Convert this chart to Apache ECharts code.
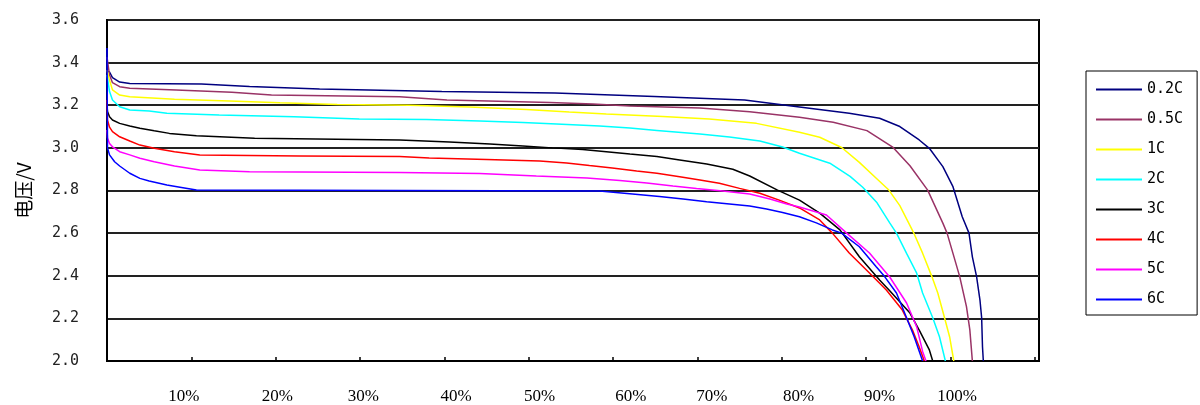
<!DOCTYPE html>
<html><head><meta charset="utf-8">
<script src="https://cdn.jsdelivr.net/npm/echarts@6/dist/echarts.min.js"></script>
<style>html,body{margin:0;padding:0;background:#fff}#c{width:1200px;height:405px}</style>
</head><body><div id="c"></div>
<script>
// Discharge curves: [capacity (%), voltage (V)]
const seriesNames = ['0.2C', '0.5C', '1C', '2C', '3C', '4C', '5C', '6C'];
const seriesColors = ['#000080', '#993366', '#FFFF00', '#00FFFF', '#000000', '#FF0000', '#FF00FF', '#0000FF'];

const c02 = [[0,3.36],[0.3,3.356],[0.65,3.33],[1.5,3.309],[2.7,3.302],[11.2,3.30],[16.9,3.288],[25.2,3.276],[39.7,3.265],[53.1,3.257],[64.9,3.241],[75.6,3.225],[82.1,3.192],[88.0,3.162],[91.6,3.139],[94.0,3.10],[96.3,3.037],[97.5,2.998],[99.1,2.912],[100.3,2.818],[101.4,2.677],[102.2,2.60],[102.6,2.489],[103.1,2.396],[103.5,2.286],[103.7,2.203],[103.8,2.067],[103.9,2.0]];
const c05 = [[0,3.426],[0.3,3.342],[0.65,3.306],[1.5,3.287],[2.7,3.28],[8.2,3.272],[14.8,3.261],[19.5,3.248],[34.7,3.24],[40.3,3.225],[52.5,3.213],[57.6,3.206],[62.0,3.197],[70.3,3.187],[76.2,3.17],[82.1,3.144],[86.1,3.12],[90.1,3.081],[93.2,3.002],[95.2,2.916],[97.3,2.802],[99.1,2.647],[99.6,2.60],[100.3,2.505],[101.1,2.396],[101.9,2.255],[102.3,2.146],[102.6,2.0]];
const c1 = [[0,3.365],[0.3,3.318],[0.65,3.272],[1.5,3.248],[2.7,3.24],[8.0,3.228],[14.5,3.22],[20.5,3.212],[27.3,3.204],[35.9,3.20],[43.0,3.192],[49.7,3.18],[54.8,3.168],[59.2,3.159],[65.9,3.147],[71.4,3.135],[77.0,3.115],[82.1,3.073],[84.5,3.05],[87.1,3.002],[89.2,2.932],[91.3,2.854],[92.7,2.802],[94.0,2.729],[95.6,2.605],[96.7,2.506],[97.8,2.396],[98.5,2.319],[99.3,2.203],[99.9,2.114],[100.4,2.0]];
const c2 = [[0,3.342],[0.3,3.264],[0.65,3.225],[1.5,3.193],[2.7,3.178],[5.0,3.173],[7.1,3.162],[13.3,3.154],[22.2,3.146],[29.9,3.135],[37.9,3.133],[44.2,3.126],[49.3,3.119],[53.3,3.112],[58.4,3.103],[62.0,3.093],[65.2,3.082],[70.3,3.065],[73.8,3.051],[77.4,3.032],[80.1,3.004],[82.1,2.975],[85.7,2.928],[88.1,2.866],[89.6,2.815],[91.3,2.742],[92.8,2.648],[93.6,2.60],[94.8,2.505],[96.0,2.412],[96.7,2.319],[97.9,2.203],[98.7,2.114],[99.4,2.0]];
const c3 = [[0,3.20],[0.06,3.17],[0.3,3.146],[0.65,3.131],[1.5,3.115],[2.7,3.103],[3.9,3.092],[5.6,3.08],[7.4,3.068],[10.6,3.057],[17.5,3.045],[27.2,3.04],[34.7,3.037],[40.6,3.028],[45.4,3.018],[49.3,3.009],[52.8,3.0],[56.4,2.992],[59.2,2.982],[62.0,2.971],[65.2,2.959],[67.9,2.943],[71.1,2.924],[74.2,2.90],[76.2,2.868],[79.5,2.802],[82.1,2.755],[84.5,2.694],[86.9,2.615],[89.2,2.489],[91.6,2.38],[92.8,2.33],[95.2,2.225],[96.3,2.145],[97.5,2.052],[97.9,2.0]];
const c4 = [[0,3.225],[0.06,3.13],[0.3,3.097],[0.65,3.076],[1.5,3.052],[2.7,3.032],[3.9,3.013],[5.6,2.998],[8.0,2.982],[11.0,2.967],[22.8,2.962],[34.7,2.959],[38.2,2.952],[45.0,2.945],[51.3,2.938],[54.5,2.929],[57.2,2.917],[59.9,2.906],[62.8,2.891],[65.2,2.881],[67.9,2.865],[70.3,2.849],[72.6,2.834],[75.0,2.81],[77.4,2.787],[79.7,2.755],[82.1,2.718],[84.5,2.662],[86.0,2.60],[88.0,2.507],[90.4,2.413],[92.4,2.333],[94.3,2.239],[95.5,2.145],[96.3,2.066],[96.9,2.0]];
const c5 = [[0,3.084],[0.06,3.046],[0.3,3.021],[0.65,3.005],[1.5,2.982],[2.7,2.967],[3.9,2.951],[5.6,2.935],[8.0,2.915],[11.0,2.896],[16.9,2.888],[34.7,2.884],[44.2,2.88],[50.9,2.868],[56.9,2.859],[60.8,2.847],[64.0,2.835],[67.1,2.821],[69.9,2.809],[73.0,2.798],[76.2,2.784],[78.6,2.76],[80.6,2.737],[82.1,2.723],[85.3,2.685],[87.7,2.60],[90.4,2.507],[92.8,2.394],[94.8,2.272],[96.0,2.16],[96.7,2.045],[97.1,2.0]];
const c6 = [[0,3.469],[0.06,3.0],[0.3,2.967],[0.9,2.935],[1.5,2.915],[2.7,2.881],[3.9,2.857],[5.0,2.845],[7.1,2.826],[9.0,2.813],[10.6,2.802],[34.7,2.80],[58.4,2.798],[62.3,2.784],[65.5,2.772],[68.3,2.76],[71.1,2.747],[73.8,2.737],[76.2,2.727],[78.2,2.713],[80.1,2.697],[82.1,2.677],[84.1,2.648],[86.0,2.615],[87.1,2.60],[89.2,2.536],[91.2,2.442],[92.2,2.396],[93.6,2.319],[94.8,2.203],[95.7,2.114],[96.7,2.0]];
const seriesData = [c02, c05, c1, c2, c3, c4, c5, c6];

// x tick labels and where the original chart printed them (capacity units)
const xTickLabels = ['10%', '20%', '30%', '40%', '50%', '60%', '70%', '80%', '90%', '100%'];
const xLabelAt = [9.1, 20.2, 30.4, 41.4, 51.3, 62.1, 71.7, 82.0, 91.6, 100.8];
const yAxisName = '电压/V';

const xMax = 110.5;
const chart = echarts.init(document.getElementById('c'));
chart.setOption({
  animation: false,
  backgroundColor: '#fff',
  grid: { left: 107, top: 20, width: 932, height: 341, show: true, borderColor: '#000', borderWidth: 2 },
  legend: {
    data: seriesNames,
    orient: 'vertical',
    left: 1086, top: 71,
    padding: [11, 14, 8, 9],
    itemWidth: 46, itemHeight: 14, itemGap: 15,
    borderColor: '#000', borderWidth: 1,
    itemStyle: { opacity: 0 },
    textStyle: { fontFamily: 'DejaVu Sans Mono', fontSize: 15, color: '#000' }
  },
  xAxis: [{
    type: 'value', min: 0, max: xMax, interval: 10,
    axisLine: { lineStyle: { color: '#000', width: 2 } },
    axisTick: { inside: true, length: 4, lineStyle: { color: '#000', width: 1.5 } },
    splitLine: { show: false },
    axisLabel: { show: false }
  }, {
    type: 'value', min: 0, max: xMax, position: 'bottom',
    axisLine: { show: false }, axisTick: { show: false }, splitLine: { show: false },
    axisLabel: {
      customValues: xLabelAt, showMinLabel: true, showMaxLabel: true,
      margin: 27, fontFamily: 'Liberation Serif', fontSize: 17, color: '#000',
      formatter: (v, i) => xTickLabels[xLabelAt.indexOf(v)] ?? ''
    }
  }],
  yAxis: {
    type: 'value', min: 2.0, max: 3.6, interval: 0.2,
    name: yAxisName, nameLocation: 'middle', nameGap: 74,
    nameTextStyle: { fontFamily: 'Noto Sans CJK SC', fontSize: 19, color: '#000' },
    axisLine: { show: true, lineStyle: { color: '#000', width: 2 } },
    axisTick: { show: false },
    splitLine: { show: true, lineStyle: { color: '#222', width: 2 } },
    axisLabel: { margin: 28, fontFamily: 'DejaVu Sans Mono', fontSize: 15, color: '#222', formatter: v => v.toFixed(1) }
  },
  series: seriesNames.map((n, i) => ({
    name: n, type: 'line', data: seriesData[i], symbol: 'none', smooth: false, xAxisIndex: 0,
    lineStyle: { color: seriesColors[i], width: 1.5 }, itemStyle: { color: seriesColors[i] }
  }))
});
</script></body></html>
